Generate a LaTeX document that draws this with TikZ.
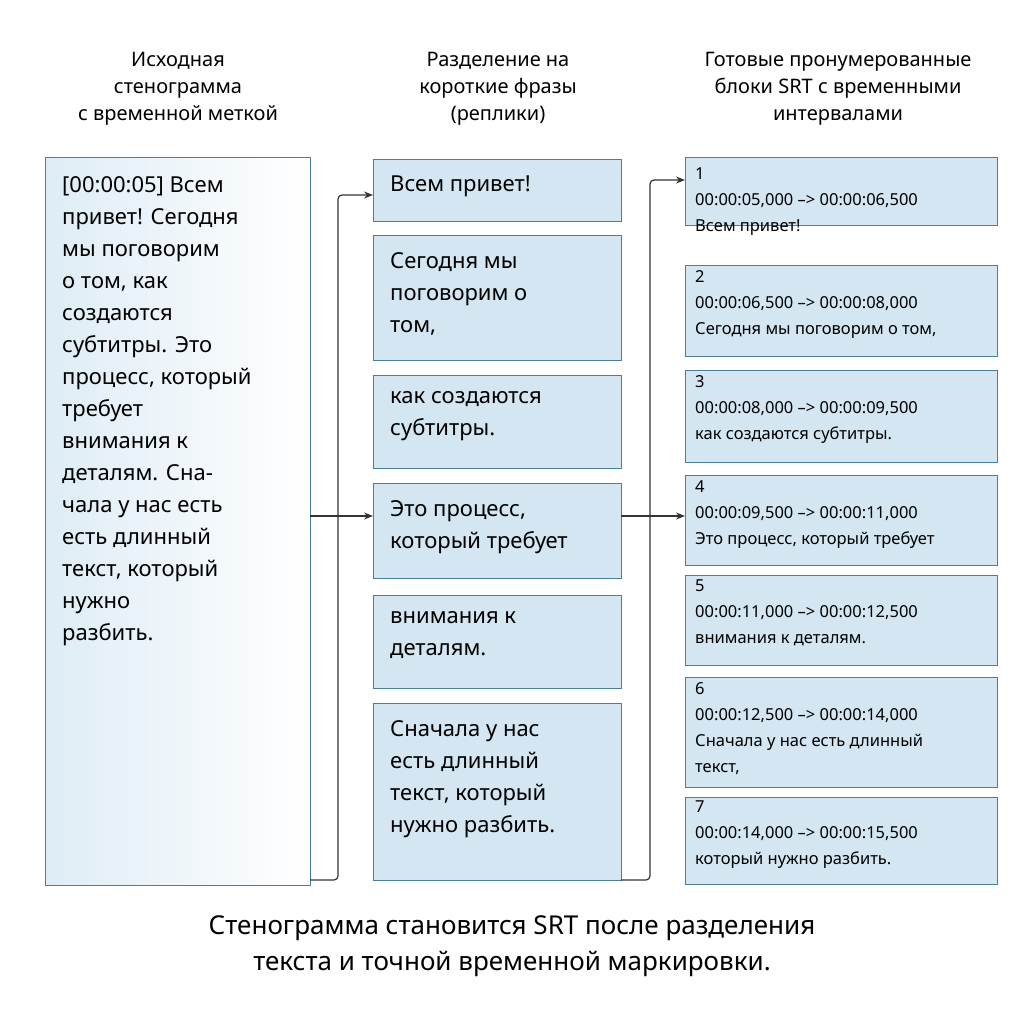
\documentclass[tikz,border=0pt]{standalone}
\usepackage{fontspec}
\setmainfont{Noto Sans}
\usetikzlibrary{arrows.meta}
\begin{document}
\begin{tikzpicture}[x=1pt,y=-1pt,
  box/.style={draw=boxline,fill=boxfill,line width=1pt},
  big/.style={font=\fontsize{22}{32}\selectfont,align=left,anchor=north west,inner sep=0pt},
  srt/.style={font=\fontsize{16.5}{26}\selectfont,align=left,anchor=north west,inner sep=0pt},
  head/.style={font=\fontsize{20}{27}\selectfont,align=center,anchor=north,inner sep=0pt},
  conn/.style={draw=black!80,line width=1.2pt,rounded corners=4pt,-{Stealth[length=9pt,width=7pt]}}]
\definecolor{boxline}{HTML}{4A7FA0}
\definecolor{boxfill}{HTML}{D3E6F2}
\useasboundingbox (0,0) rectangle (1024,1024);
\fill[white] (0,0) rectangle (1024,1024);
% headings
\node[head] (h1) at (178,52) {Исходная\\стенограмма\\с временной меткой};
\node[head] (h2) at (498,52) {Разделение на\\короткие фразы\\(реплики)};
\node[head] (h3) at (838,52) {Готовые пронумерованные\\блоки SRT с временными\\интервалами};
% left box
\path[draw=boxline,line width=1pt,left color=boxfill!75,right color=white] (45,158) rectangle (310,885);
\coordinate (L) at (310,516);
\coordinate (Lb) at (310,880);
\node[big] (lt) at (62,176) {[00:00:05] Всем\\привет! Сегодня\\мы поговорим\\о том, как\\создаются\\субтитры. Это\\процесс, который\\требует\\внимания к\\деталям. Сна-\\чала у нас есть\\есть длинный\\текст, который\\нужно\\разбить.};
% middle boxes
\draw[box] (373,160) rectangle (621,222);
\draw[box] (373,235) rectangle (621,360);
\draw[box] (373,375) rectangle (621,468);
\draw[box] (373,483) rectangle (621,578);
\draw[box] (373,595) rectangle (621,688);
\draw[box] (373,703) rectangle (621,880);
\node[big] (m1) at (390,176) {Всем привет!};
\node[big] (m2) at (390,252) {Сегодня мы\\поговорим о\\том,};
\node[big] (m3) at (390,391) {как создаются\\субтитры.};
\node[big] (m4) at (390,500) {Это процесс,\\который требует};
\node[big] (m5) at (390,611) {внимания к\\деталям.};
\node[big] (m6) at (390,720) {Сначала у нас\\есть длинный\\текст, который\\нужно разбить.};
% right boxes
\draw[box] (685,158) rectangle (997,226);
\draw[box] (685,265) rectangle (997,356);
\draw[box] (685,370) rectangle (997,462);
\draw[box] (685,475) rectangle (997,565);
\draw[box] (685,575) rectangle (997,665);
\draw[box] (685,677) rectangle (997,787);
\draw[box] (685,797) rectangle (997,884);
\node[srt] (r1) at (695,168) {1\\00:00:05,000 --> 00:00:06,500\\Всем привет!};
\node[srt] (r2) at (695,270) {2\\00:00:06,500 --> 00:00:08,000\\Сегодня мы поговорим о том,};
\node[srt] (r3) at (695,375) {3\\00:00:08,000 --> 00:00:09,500\\как создаются субтитры.};
\node[srt] (r4) at (695,480) {4\\00:00:09,500 --> 00:00:11,000\\Это процесс, который требует};
\node[srt] (r5) at (695,580) {5\\00:00:11,000 --> 00:00:12,500\\внимания к деталям.};
\node[srt] (r6) at (695,682) {6\\00:00:12,500 --> 00:00:14,000\\Сначала у нас есть длинный\\текст,};
\node[srt] (r7) at (695,801) {7\\00:00:14,000 --> 00:00:15,500\\который нужно разбить.};
% connectors
\coordinate (T1) at (373,195);
\coordinate (T4) at (373,516);
\coordinate (Mb) at (621,880);
\coordinate (M4) at (621,516);
\coordinate (S1) at (685,180);
\coordinate (S4) at (685,516);
\draw[conn] (Lb) -- (338,880) -- (338,195) -- (T1);
\draw[conn] (L) -- (T4);
\draw[conn] (Mb) -- (650,880) -- (650,180) -- (S1);
\draw[conn] (M4) -- (S4);
% caption
\node[font=\fontsize{26}{36}\selectfont,align=center,anchor=north,inner sep=0pt] (cap) at (512,915) {Стенограмма становится SRT после разделения\\текста и точной временной маркировки.};
\end{tikzpicture}
\end{document}
